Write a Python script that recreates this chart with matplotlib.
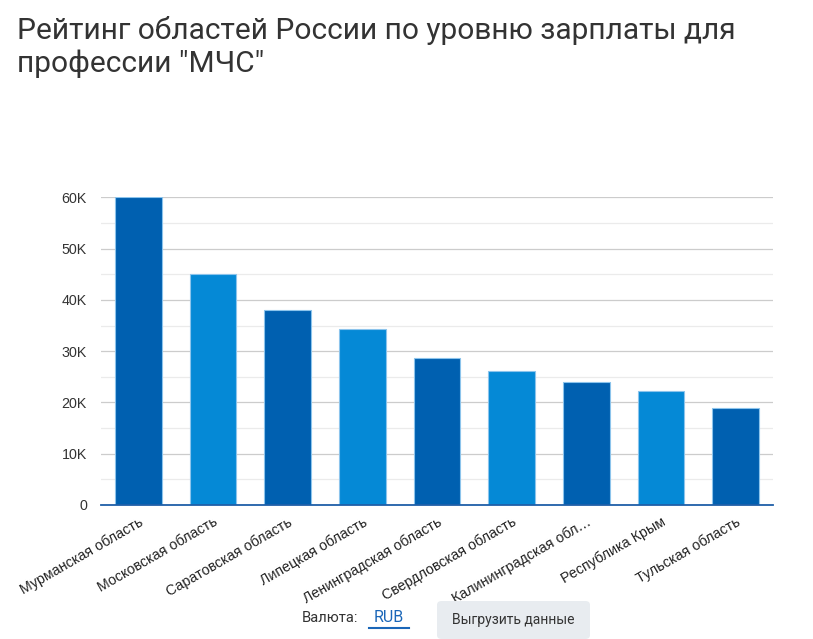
import matplotlib
matplotlib.use("Agg")
import matplotlib.pyplot as plt
from matplotlib.patches import FancyBboxPatch
from matplotlib.ticker import MultipleLocator, FuncFormatter

regions = ["Мурманская область", "Московская область", "Саратовская область",
           "Липецкая область", "Ленинградская область", "Свердловская область",
           "Калининградская обл…", "Республика Крым", "Тульская область"]
salaries = [60000, 45000, 38000, 34400, 28700, 26200, 23900, 22300, 19000]
bar_colors = ["#0060b0", "#0589d6", "#0060b0", "#0589d6", "#0060b0",
              "#0589d6", "#0060b0", "#0589d6", "#0060b0"]
title = 'Рейтинг областей России по уровню зарплаты для\nпрофессии "МЧС"'

W, H = 813, 639
fig = plt.figure(figsize=(W / 100, H / 100), dpi=100)
ax = fig.add_axes([101 / W, 1 - 505 / H, (773 - 101) / W, (505 - 197.3) / H])

x = list(range(len(regions)))
ax.bar(x, salaries, width=0.625, color=bar_colors, edgecolor="#8cc4ec",
       linewidth=0.8, zorder=3)
ax.set_xlim(-0.5, len(regions) - 0.5)
ax.set_ylim(0, 60000)
ax.yaxis.set_major_locator(MultipleLocator(10000))
ax.yaxis.set_minor_locator(MultipleLocator(5000))
ax.yaxis.set_major_formatter(FuncFormatter(lambda v, p: "0" if v == 0 else f"{int(v/1000)}K"))
ax.grid(axis="y", which="major", color="#cccccc", linewidth=0.9, zorder=0)
ax.grid(axis="y", which="minor", color="#ebebeb", linewidth=0.9, zorder=0)
for s in ["top", "right", "left"]:
    ax.spines[s].set_visible(False)
ax.spines["bottom"].set_color("#1f5fa8")
ax.spines["bottom"].set_linewidth(1.3)
ax.spines["bottom"].set_zorder(4)
ax.tick_params(axis="y", which="both", length=0, pad=10, labelsize=10.3,
               labelcolor="#333333")
ax.tick_params(axis="x", length=0, pad=7)
ax.set_xticks(x)
ax.set_xticklabels(regions, rotation=30, ha="right", rotation_mode="anchor",
                   fontsize=10.3, color="#222222", family="Liberation Sans")
for lab in ax.get_yticklabels():
    lab.set_family("Liberation Sans")

fig.text(17 / W, 1 - 72 / H, title, fontsize=21.5, family="Roboto",
         color="#333333", ha="left", va="baseline", linespacing=1.2)

fig.text(358 / W, 1 - 618 / H, "Валюта:", fontsize=10.6, family="Roboto",
         color="#333333", ha="right", va="center")
fig.text(388.5 / W, 1 - 618 / H, "RUB", fontsize=11.5, family="Roboto",
         color="#1a66b8", ha="center", va="center")
fig.add_artist(plt.Line2D([369 / W, 409 / W], [1 - 628 / H, 1 - 628 / H],
                          color="#1a66b8", linewidth=1.5))
btn = FancyBboxPatch((437 / W, 1 - 639 / H), (590 - 437) / W, (639 - 601) / H,
                     boxstyle="round,pad=0,rounding_size=0.006",
                     transform=fig.transFigure, facecolor="#e8ecf0",
                     edgecolor="none")
fig.add_artist(btn)
fig.text(513 / W, 1 - 620 / H, "Выгрузить данные", fontsize=10, family="Roboto",
         color="#333333", ha="center", va="center")

fig.savefig("out.png", dpi=100, facecolor="white")
